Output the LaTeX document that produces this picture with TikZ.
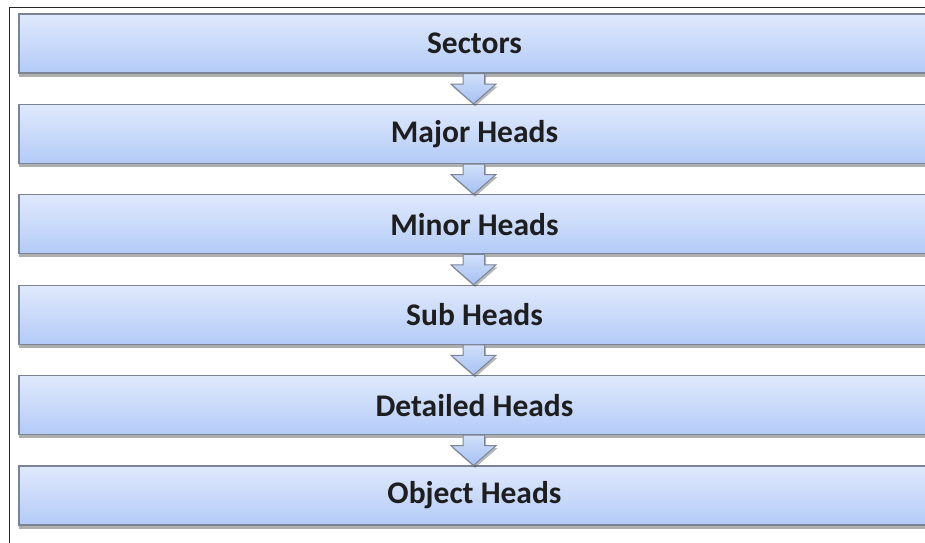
\documentclass[tikz,border=0pt]{standalone}
\usepackage{fontspec}
\setmainfont{Carlito}
\usetikzlibrary{shadows,calc}
\definecolor{boxtop}{HTML}{E0E9FC}
\definecolor{boxbot}{HTML}{B3CBF7}
\definecolor{boxedge}{HTML}{7A8494}
\definecolor{arrtop}{HTML}{D0DFFA}
\definecolor{arrbot}{HTML}{A6C1F3}
\definecolor{txt}{HTML}{1E1E1E}
\tikzset{
  levelbox/.style={draw=boxedge, line width=1.2pt, top color=boxtop, bottom color=boxbot,
    minimum width=911pt, minimum height=59pt, inner sep=0pt,
    font=\bfseries\fontsize{31.5pt}{33pt}\selectfont, text=txt,
    drop shadow={shadow xshift=0pt, shadow yshift=-3.5pt, opacity=0.45, fill=black!70}},
  blockarrow/.style={draw=boxedge, line width=1pt, top color=arrtop, bottom color=arrbot, line join=miter,
    drop shadow={shadow xshift=1.5pt, shadow yshift=-2.5pt, opacity=0.4, fill=black!70}},
  frame/.style={draw=black!85, line width=1.8pt}
}
\begin{document}
\begin{tikzpicture}[x=1pt,y=-1pt]
\useasboundingbox (0,0) rectangle (925,542);
\draw[frame] (9.5,560) -- (9.5,7.5) -- (940,7.5);
% boxes
\node[levelbox] (b1) at (474.5,43.5) {Sectors};
\node[levelbox] (b2) at (474.5,133.9) {Major Heads};
\node[levelbox] (b3) at (474.5,224.3) {Minor Heads};
\node[levelbox] (b4) at (474.5,314.7) {Sub Heads};
\node[levelbox] (b5) at (474.5,405.1) {Detailed Heads};
\node[levelbox] (b6) at (474.5,495.5) {Object Heads};
% block arrows between consecutive boxes
\foreach \a/\b in {b1/b2,b2/b3,b3/b4,b4/b5,b5/b6}{
  \path[blockarrow]
    ($(\a.south)+(-11.5,0)$) -- ($(\a.south)+(10,0)$) --
    ($(\a.south)+(10,10.5)$) -- ($(\a.south)+(21.5,10.5)$) --
    ($(\b.north)+(-1,0)$) --
    ($(\a.south)+(-23.5,10.5)$) -- ($(\a.south)+(-11.5,10.5)$) -- cycle;
}
\end{tikzpicture}
\end{document}
